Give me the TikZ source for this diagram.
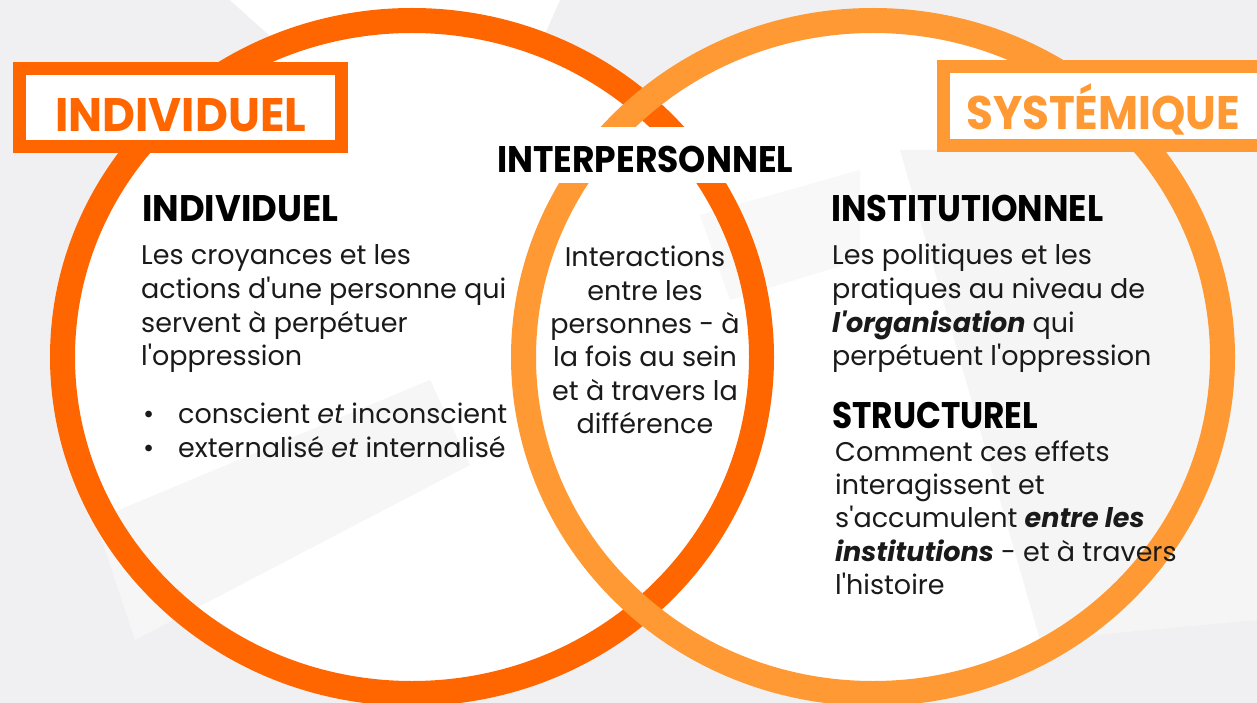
\documentclass[tikz,border=0pt]{standalone}
\usepackage{fontspec}
\usepackage{graphicx}
\setmainfont{Poppins}
\definecolor{deeporange}{HTML}{FF6600}
\definecolor{softorange}{HTML}{FF9933}
\definecolor{paper}{HTML}{F0F0F2}
\definecolor{ink}{HTML}{1A1A1A}
% squeeze a label horizontally to a given width, keeping its height
\newcommand{\fitwidth}[2]{\resizebox{#1pt}{\height}{#2}}
\newcommand{\ap}{\textquotesingle}
\begin{document}
\begin{tikzpicture}[x=1pt,y=-1pt,
  ring/.style={line width=25pt},
  tagbox/.style={line width=13pt, fill=white},
  tagtext/.style={inner sep=0pt, anchor=base west, font=\fontsize{47}{50}\selectfont\bfseries},
  headtext/.style={inner sep=0pt, font=\fontsize{37}{40}\selectfont\bfseries, text=black},
  bodyline/.style={inner sep=0pt, anchor=base west, font=\fontsize{27}{33}\selectfont, text=ink},
  midline/.style={inner sep=0pt, anchor=base, font=\fontsize{27}{33}\selectfont, text=ink}]
\useasboundingbox (0,0) rectangle (1257,703);
\clip (0,0) rectangle (1257,703);
% backdrop: pale grey with lighter sweeps
\fill[paper] (0,0) rectangle (1257,703);
\fill[white] (412,357) ellipse [x radius=340, y radius=327];
\fill[white] (873,357) ellipse [x radius=340, y radius=327];
\fill[white] (230,0) -- (560,0) -- (520,90) -- (330,90) -- cycle;
\fill[paper!60!white] (95,520) -- (430,380) -- (470,465) -- (135,640) -- cycle;
\fill[paper!70!white] (900,150) -- (1257,150) -- (1257,620) -- (1040,640) -- cycle;
\fill[paper!50!white] (700,215) -- (860,170) -- (860,260) -- (730,300) -- cycle;

% the two rings
\draw[ring, deeporange] (412,357) ellipse [x radius=349.5, y radius=336.5];
\draw[ring, softorange] (873,357) ellipse [x radius=349.5, y radius=336.5];

% framed titles
\draw[tagbox, draw=deeporange] (19.5,68.5) rectangle (341.5,146.5);
\node[tagtext, text=deeporange] (tagind) at (55,132) {\fitwidth{251}{INDIVIDUEL}};
\draw[tagbox, draw=softorange] (943.5,66.5) rectangle (1275,145.5);
\node[tagtext, text=softorange] (tagsys) at (966,130) {\fitwidth{274}{SYSTÉMIQUE}};

% middle title on a plain patch
\fill[white] (488,127) rectangle (802,183);
\node[headtext, anchor=base west] (hinter) at (497,173) {\fitwidth{296}{INTERPERSONNEL}};

% left column
\node[headtext, anchor=base west] (hind) at (142,222) {\fitwidth{196}{INDIVIDUEL}};
\node[bodyline] (l1) at (141,265) {Les croyances et les};
\node[bodyline] (l2) at (141,298.5) {actions d\ap une personne qui};
\node[bodyline] (l3) at (141,332) {servent à perpétuer};
\node[bodyline] (l4) at (141,365.5) {l\ap oppression};
\node[bodyline] (b1) at (143,423) {•};
\node[bodyline] (l5) at (178,423) {conscient \textit{et} inconscient};
\node[bodyline] (b2) at (143,457) {•};
\node[bodyline] (l6) at (178,457) {externalisé \textit{et} internalisé};

% middle column
\node[midline] (m1) at (645,266.7) {Interactions};
\node[midline] (m2) at (645,300) {entre les};
\node[midline] (m3) at (645,333.3) {personnes - à};
\node[midline] (m4) at (645,366.7) {la fois au sein};
\node[midline] (m5) at (645,400) {et à travers la};
\node[midline] (m6) at (645,433.3) {différence};

% right column
\node[headtext, anchor=base west] (hinst) at (831,222) {\fitwidth{272}{INSTITUTIONNEL}};
\node[bodyline] (r1) at (832,265) {Les politiques et les};
\node[bodyline] (r2) at (832,298.5) {pratiques au niveau de};
\node[bodyline] (r3) at (832,332) {\textbf{\textit{l\ap organisation}} qui};
\node[bodyline] (r4) at (832,365.5) {perpétuent l\ap oppression};
\node[headtext, anchor=base west] (hstruct) at (832,428) {\fitwidth{206}{STRUCTUREL}};
\node[bodyline] (s1) at (835,461) {Comment ces effets};
\node[bodyline] (s2) at (835,494) {interagissent et};
\node[bodyline] (s3) at (835,527.5) {s\ap accumulent \textbf{\textit{entre les}}};
\node[bodyline] (s4) at (835,561) {\textbf{\textit{institutions}} - et à travers};
\node[bodyline] (s5) at (835,594.5) {l\ap histoire};
\end{tikzpicture}
\end{document}
